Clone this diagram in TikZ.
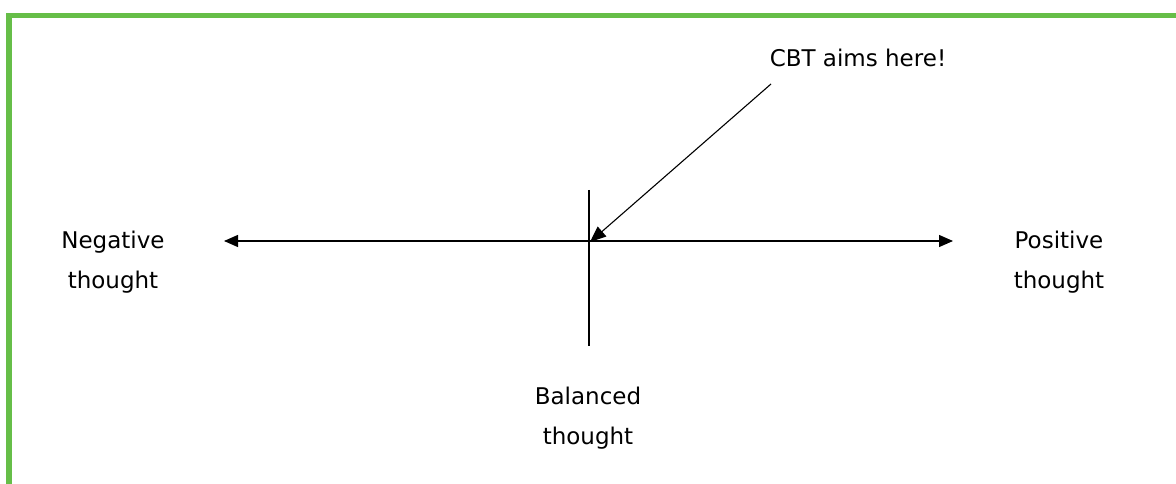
\documentclass[tikz,border=0pt]{standalone}
\usepackage{fontspec}
\setmainfont{DejaVu Sans}
\usetikzlibrary{arrows.meta}
\definecolor{framegreen}{RGB}{102,190,72}
\tikzset{
  lbl/.style={align=center, font=\fontsize{23}{40}\selectfont, inner sep=0pt},
  axis/.style={line width=1.3pt, -{Triangle[length=14pt,width=12pt]}},
  pointer/.style={line width=1.1pt, -{Triangle[length=16pt,width=13pt]}}
}
\begin{document}
\begin{tikzpicture}[x=1pt,y=-1pt]
\useasboundingbox (0,0) rectangle (1176,484);
\fill[framegreen] (6,13) rectangle (1176,18);
\fill[framegreen] (6,13) rectangle (12,484);
\coordinate (c) at (589,241);
\coordinate (l) at (224,241);
\coordinate (r) at (953,241);
\coordinate (vt) at (589,190);
\coordinate (vb) at (589,346);
\coordinate (ps) at (771,84);
\draw[axis] (c) -- (l);
\draw[axis] (c) -- (r);
\draw[line width=1.3pt] (vt) -- (vb);
\draw[pointer] (ps) -- ([xshift=1pt,yshift=-1pt]c);
\node[lbl] (neg) at (113,262) {Negative\\thought};
\node[lbl] (pos) at (1059,262) {Positive\\thought};
\node[lbl] (bal) at (588,418) {Balanced\\thought};
\node[lbl] (cbt) at (858,58) {CBT aims here!};
\end{tikzpicture}
\end{document}
